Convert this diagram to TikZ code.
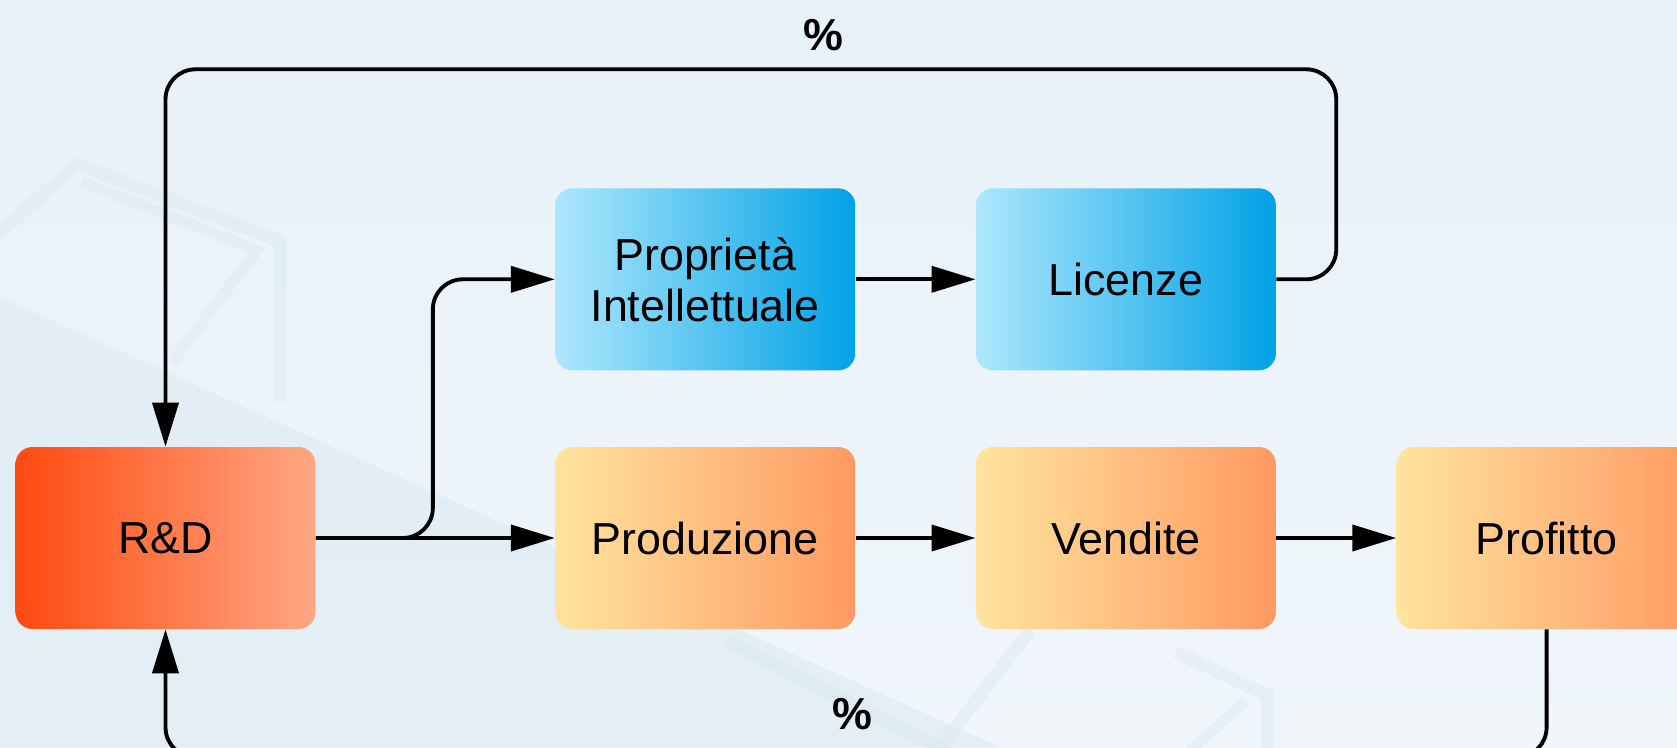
\documentclass[tikz,border=0pt]{standalone}
\usepackage{fontspec}
\setmainfont{Liberation Sans}
\usepackage{tikz}
\usetikzlibrary{positioning,arrows.meta,calc}

\definecolor{bgtop}{HTML}{E7F1F8}
\definecolor{bgbot}{HTML}{F0F6FA}
\definecolor{decor}{HTML}{DCEAF2}
\definecolor{rdleft}{HTML}{FF4A10}
\definecolor{rdright}{HTML}{FFA884}
\definecolor{orleft}{HTML}{FFE49E}
\definecolor{orright}{HTML}{FF9A62}
\definecolor{blleft}{HTML}{AEE7FC}
\definecolor{blright}{HTML}{00A2E6}

\begin{document}
\begin{tikzpicture}[
    node distance=2.4cm,
    >={Triangle[length=0.88cm,width=0.52cm]},
    font=\fontsize{25.5}{29}\selectfont,
    every node/.style={align=center},
    block/.style={rectangle, rounded corners=0.34cm, minimum width=6cm, minimum height=3.64cm, inner sep=0pt},
    rdbox/.style={block, left color=rdleft, right color=rdright},
    orbox/.style={block, left color=orleft, right color=orright},
    blbox/.style={block, left color=blleft, right color=blright},
    conn/.style={->, line width=2.2pt, rounded corners=0.6cm},
    pct/.style={font=\fontsize{25.5}{29}\selectfont\bfseries}
]

% Background
\useasboundingbox (0,0) rectangle (33.54,14.94);
\clip (0,0) rectangle (33.54,14.94);
\fill[top color=bgtop, bottom color=bgbot] (0,0) rectangle (33.54,14.94);

\begin{scope}[x=0.02cm, y=-0.02cm, shift={(0cm,14.94cm)}, decor, opacity=0.5]
    \fill[opacity=0.6] (0,297) -- (1000,747) -- (0,747) -- cycle;
    \draw[line width=0.26cm] (-20,250) -- (77,164) -- (280,241) -- (280,401);
    \draw[line width=0.22cm] (82,182) -- (257,250) -- (172,362);
    \draw[line width=0.26cm] (930,760) -- (1030,630);
    \draw[line width=0.26cm] (1176,652) -- (1267,695) -- (1267,760);
    \draw[line width=0.22cm] (1246,700) -- (1180,760);
    \draw[line width=0.26cm] (727,640) -- (963,760);
\end{scope}

% Nodes
\node[rdbox] (rd) at (3.31,4.18) {R\&D};
\node[orbox, right=4.78cm of rd] (prod) {Produzione};
\node[orbox, right=of prod] (vend) {Vendite};
\node[orbox, right=of vend] (prof) {Profitto};
\node[blbox, above=1.52cm of prod] (prop) {Proprietà\\Intellettuale};
\node[blbox, above=1.52cm of vend] (lic) {Licenze};

\node[pct] (pcttop) at (16.46,14.24) {\%};
\node[pct] (pctbot) at (17.04,0.66) {\%};

% Bends
\coordinate (split) at ($(rd.east)+(2.34,0)$);
\coordinate (topright) at ($(lic.east)+(1.2,4.2)$);
\coordinate (bottom) at ($(prof.south)+(0,-2.56)$);

% Flows
\draw[conn] (rd.east) -- (prod.west);
\draw[conn] (rd.east) -- (split) |- (prop.west);
\draw[conn] (prop) -- (lic);
\draw[conn] (prod) -- (vend);
\draw[conn] (vend) -- (prof);

% Loops back to R&D
\draw[conn] (lic.east) -| (topright) -| (rd.north);
\draw[conn] (prof.south) -- (bottom) -| (rd.south);

\end{tikzpicture}
\end{document}
